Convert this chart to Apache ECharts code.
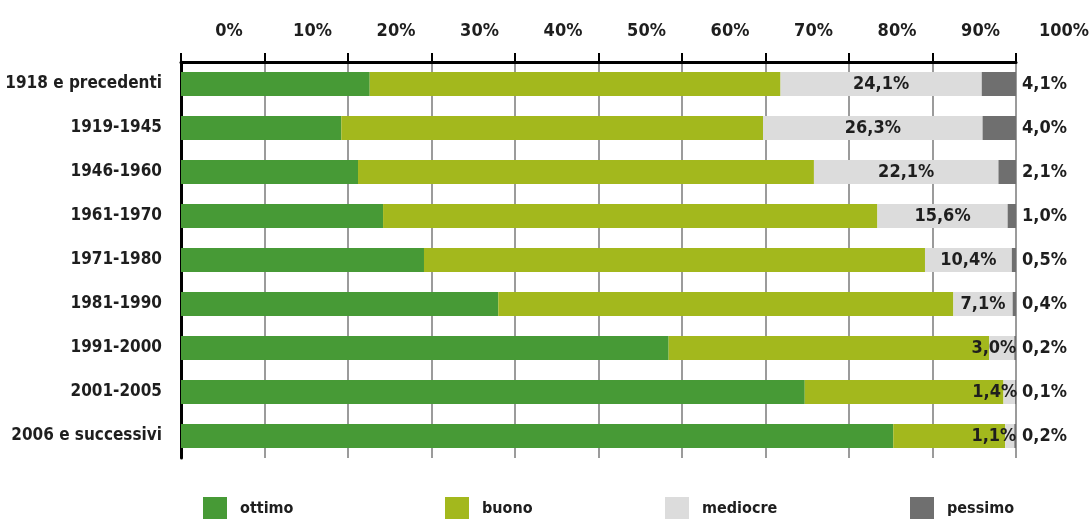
<!DOCTYPE html>
<html>
<head>
<meta charset="utf-8">
<script src="https://cdn.jsdelivr.net/npm/echarts@6/dist/echarts.min.js"></script>
<style>
  html, body { margin: 0; padding: 0; background: #ffffff; }
  #chart { width: 1089px; height: 519px; }
</style>
</head>
<body>
<div id="chart"></div>
<script>
// Epoca di costruzione degli edifici
const categories = [
  '1918 e precedenti', '1919-1945', '1946-1960', '1961-1970', '1971-1980',
  '1981-1990', '1991-2000', '2001-2005', '2006 e successivi'
];

// Stato di conservazione, quota percentuale per epoca
const ottimo   = [22.6, 19.2, 21.2, 24.2, 29.1, 38.0, 58.4, 74.7, 85.3];
const buono    = [49.2, 50.5, 54.6, 59.2, 60.0, 54.5, 38.4, 23.8, 13.4];
const mediocre = [24.1, 26.3, 22.1, 15.6, 10.4, 7.1, 3.0, 1.4, 1.1];
const pessimo  = [4.1, 4.0, 2.1, 1.0, 0.5, 0.4, 0.2, 0.1, 0.2];

const seriesNames = ['ottimo', 'buono', 'mediocre', 'pessimo'];
const colors = ['#479a36', '#a3b81d', '#dcdcdc', '#6f6f6f'];

const FONT = "'Liberation Sans Narrow', 'DejaVu Sans Condensed', 'Roboto', sans-serif";
const TEXT = '#1e1e1e';

const pct = v => v.toFixed(1).replace('.', ',') + '%';

// small "mediocre" shares get their label pushed to the bar end
const mediocreData = mediocre.map(v => v < 5
  ? { value: v, label: { position: 'insideRight', distance: 0, offset: [2, 0] } }
  : v);

const chart = echarts.init(document.getElementById('chart'), null, { renderer: 'canvas' });

const legendLefts = [203, 445, 665, 910];

chart.setOption({
  animation: false,
  backgroundColor: '#ffffff',
  color: colors,
  textStyle: { fontFamily: FONT },
  grid: {
    left: 181, right: 73, top: 62, height: 396,
    containLabel: false,
    outerBoundsMode: 'none'
  },
  legend: seriesNames.map((name, i) => ({
    data: [name],
    left: legendLefts[i],
    top: 497,
    padding: 0,
    icon: 'rect',
    itemWidth: 24,
    itemHeight: 24,
    itemGap: 0,
    selectedMode: false,
    textStyle: { fontFamily: FONT, fontSize: 16, fontWeight: 'bold', color: TEXT, padding: [0, 0, 0, 8] }
  })),
  xAxis: {
    type: 'value',
    position: 'top',
    min: 0,
    max: 100,
    interval: 10,
    axisLine: { show: true, lineStyle: { color: '#000', width: 3 } },
    axisTick: { show: true, length: 9, lineStyle: { color: '#000', width: 2 } },
    splitLine: { show: true, lineStyle: { color: '#7a7a7a', width: 1.5 } },
    axisLabel: {
      formatter: '{value}%',
      fontFamily: FONT,
      fontSize: 18,
      fontWeight: 'bold',
      color: TEXT,
      margin: 22,
      padding: [0, 0, 0, 96]
    }
  },
  yAxis: {
    type: 'category',
    data: categories,
    inverse: true,
    axisLine: { show: true, lineStyle: { color: '#000', width: 3 } },
    axisTick: { show: false },
    axisLabel: {
      fontFamily: FONT,
      fontSize: 17,
      fontWeight: 'bold',
      color: TEXT,
      margin: 19
    }
  },
  series: [
    {
      name: 'ottimo', type: 'bar', stack: 'tot', barWidth: 24, data: ottimo,
      itemStyle: { color: colors[0] }
    },
    {
      name: 'buono', type: 'bar', stack: 'tot', barWidth: 24, data: buono,
      itemStyle: { color: colors[1] }
    },
    {
      name: 'mediocre', type: 'bar', stack: 'tot', barWidth: 24, data: mediocreData,
      itemStyle: { color: colors[2] },
      label: {
        show: true,
        position: 'inside',
        formatter: p => pct(p.value),
        fontFamily: FONT, fontSize: 18, fontWeight: 'bold', color: TEXT
      }
    },
    {
      name: 'pessimo', type: 'bar', stack: 'tot', barWidth: 24, data: pessimo,
      itemStyle: { color: colors[3] },
      label: {
        show: true,
        position: 'right',
        distance: 6,
        formatter: p => pct(p.value),
        fontFamily: FONT, fontSize: 18, fontWeight: 'bold', color: TEXT
      }
    }
  ]
});
</script>
</body>
</html>
